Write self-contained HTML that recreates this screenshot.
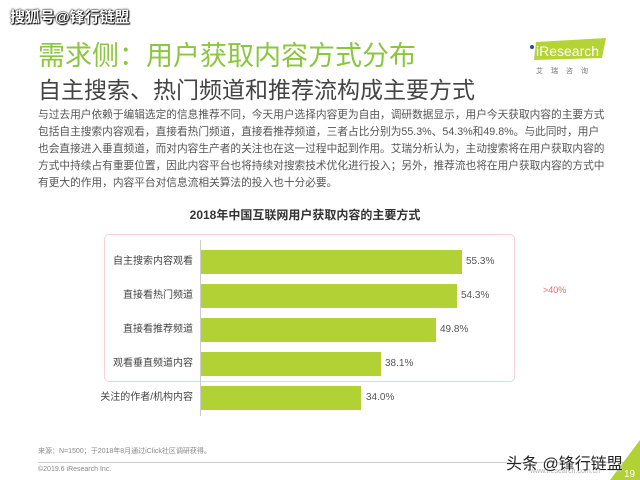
<!DOCTYPE html>
<html><head><meta charset="utf-8"><style>
body{margin:0;width:640px;height:480px;background:#fff;position:relative;overflow:hidden;font-family:"Liberation Sans","Noto Sans CJK SC",sans-serif}
.a{position:absolute;white-space:nowrap}
.bar{position:absolute;left:201px;height:24px;background:#b1d135}
.lb{position:absolute;right:447px;font-size:10px;color:#444;line-height:24px}
.v{position:absolute;font-size:10px;color:#555;line-height:24px}
</style></head><body>
<div class="a" style="left:10px;top:6px;font-size:15px;font-weight:bold;color:#fff;text-shadow:0 0 2px #000,0 0 1px #000,1px 1px 1px #000">搜狐号@锋行链盟</div>
<div class="a" style="left:38px;top:34px;font-size:27px;color:#8cc63f">需求侧：用户获取内容方式分布</div>
<div class="a" style="left:38px;top:71px;font-size:23px;color:#444">自主搜索、热门频道和推荐流构成主要方式</div>
<svg class="a" style="left:528px;top:38px" width="80" height="50"><polygon points="8,4 78,0 74,20 6,22" fill="#b5d334"/><circle cx="4" cy="9" r="2" fill="#2a4d8f"/><text x="8" y="18" font-size="14" fill="#fff" font-family="Liberation Sans">iResearch</text><text x="8" y="35" font-size="7" fill="#777" font-family="Noto Sans CJK SC" letter-spacing="8">艾瑞咨询</text></svg>
<div class="a" style="left:38px;top:107px;font-size:10.7px;color:#555;line-height:17px">与过去用户依赖于编辑选定的信息推荐不同，今天用户选择内容更为自由，调研数据显示，用户今天获取内容的主要方式<br>包括自主搜索内容观看，直接看热门频道，直接看推荐频道，三者占比分别为55.3%、54.3%和49.8%。与此同时，用户<br>也会直接进入垂直频道，而对内容生产者的关注也在这一过程中起到作用。艾瑞分析认为，主动搜索将在用户获取内容的<br>方式中持续占有重要位置，因此内容平台也将持续对搜索技术优化进行投入；另外，推荐流也将在用户获取内容的方式中<br>有更大的作用，内容平台对信息流相关算法的投入也十分必要。</div>
<div class="a" style="left:0;width:610px;text-align:center;top:206px;font-size:12px;font-weight:bold;color:#333">2018年中国互联网用户获取内容的主要方式</div>
<div class="a" style="left:104px;top:234px;width:409px;height:146px;border:1px solid #f2d4d4;border-radius:5px"></div>
<div class="a" style="left:200px;top:240px;width:1px;height:176px;background:#ccc"></div>
<div class="bar" style="top:250px;width:261px"></div><div class="lb" style="top:250px">自主搜索内容观看</div><div class="v" style="top:250px;left:466px">55.3%</div>
<div class="bar" style="top:284px;width:256px"></div><div class="lb" style="top:284px">直接看热门频道</div><div class="v" style="top:284px;left:461px">54.3%</div>
<div class="bar" style="top:318px;width:235px"></div><div class="lb" style="top:318px">直接看推荐频道</div><div class="v" style="top:318px;left:440px">49.8%</div>
<div class="bar" style="top:352px;width:180px"></div><div class="lb" style="top:352px">观看垂直频道内容</div><div class="v" style="top:352px;left:385px">38.1%</div>
<div class="bar" style="top:386px;width:160px"></div><div class="lb" style="top:386px">关注的作者/机构内容</div><div class="v" style="top:386px;left:366px">34.0%</div>
<div class="a" style="left:543px;top:285px;font-size:9px;color:#e46c6c">&gt;40%</div>
<div class="a" style="left:38px;top:446px;font-size:7px;color:#888">来源：N=1500；于2018年8月通过iClick社区调研获得。</div>
<div class="a" style="left:38px;top:462px;width:590px;height:1px;background:#ccc"></div>
<div class="a" style="left:38px;top:466px;font-size:7px;color:#888">©2019.6 iResearch Inc.</div>
<div class="a" style="left:530px;top:468px;font-size:7px;color:#aaa">www.iresearch.com.cn</div>
<svg class="a" style="left:610px;top:440px" width="30" height="40"><polygon points="30,0 30,40 0,40" fill="#b1d135"/><text x="14" y="37" font-size="10" fill="#fff">19</text></svg>
<div class="a" style="left:506px;top:450px;font-size:16px;color:#222;text-shadow:0 0 2px #fff">头条 @锋行链盟</div>
</body></html>
